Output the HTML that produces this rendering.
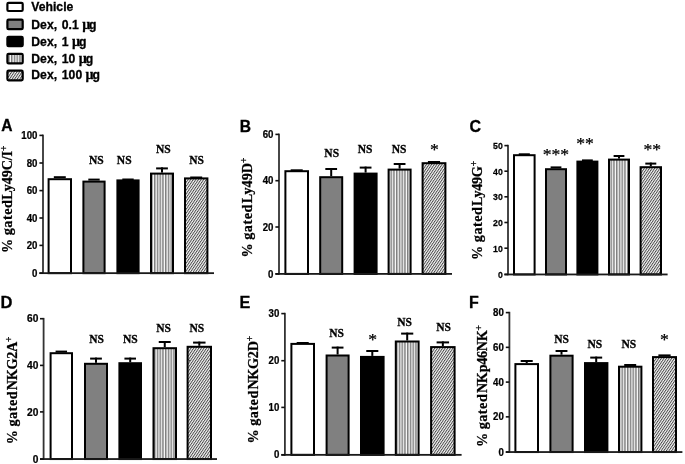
<!DOCTYPE html>
<html><head><meta charset="utf-8"><title>Figure</title>
<style>
html,body{margin:0;padding:0;background:#fff;}
body{width:685px;height:464px;overflow:hidden;position:relative;}
svg{position:absolute;left:0;top:0;display:block;will-change:transform;}
.tk{font-family:"Liberation Sans",sans-serif;font-weight:bold;font-size:10.4px;fill:#000;stroke:#000;stroke-width:0.25px;}
.lg{font-family:"Liberation Sans",sans-serif;font-weight:bold;font-size:12.2px;fill:#000;stroke:#000;stroke-width:0.3px;}
.pl{font-family:"Liberation Sans",sans-serif;font-weight:bold;font-size:14px;fill:#000;stroke:#000;stroke-width:0.3px;}
.an{font-family:"Liberation Serif",serif;font-weight:bold;font-size:11.5px;fill:#000;stroke:#000;stroke-width:0.3px;}
.st{font-family:"Liberation Serif",serif;font-weight:normal;font-size:17.6px;fill:#000;}
.yl{font-family:"Liberation Serif",serif;font-weight:bold;font-size:14.2px;fill:#000;stroke:#000;stroke-width:0.25px;}
</style></head><body>
<svg width="685" height="464" viewBox="0 0 685 464">
<defs>
<pattern id="vs" width="2.75" height="8" patternUnits="userSpaceOnUse">
<rect width="2.75" height="8" fill="#fafafa"/><rect x="0.3" width="1.0" height="8" fill="#444"/>
</pattern>
<pattern id="dh" width="2.15" height="2.15" patternUnits="userSpaceOnUse" patternTransform="rotate(-56)">
<rect width="2.15" height="2.15" fill="#f6f6f6"/><rect width="2.15" height="0.95" fill="#484848"/>
</pattern>
</defs>
<rect width="685" height="464" fill="#fff"/>

<rect x="7.4" y="2.9" width="15.3" height="8.1" rx="1.2" fill="#fff" stroke="#000" stroke-width="2.2"/>
<text class="lg" x="31.3" y="10.7">Vehicle</text>
<rect x="7.4" y="19.7" width="15.3" height="9.5" rx="1.2" fill="#808080" stroke="#000" stroke-width="2.2"/>
<text class="lg" x="31.3" y="29.1">Dex,<tspan dx="1.4"> 0.1</tspan><tspan dx="3.4" font-family="Liberation Serif" font-size="14px">µ</tspan><tspan dx="-1.2">g</tspan></text>
<rect x="7.4" y="36.9" width="15.3" height="9.3" rx="1.2" fill="#000" stroke="#000" stroke-width="2.2"/>
<text class="lg" x="31.3" y="45.9">Dex,<tspan dx="1.4"> 1</tspan><tspan dx="3.4" font-family="Liberation Serif" font-size="14px">µ</tspan><tspan dx="-1.2">g</tspan></text>
<rect x="7.4" y="53.8" width="15.3" height="9.6" rx="1.2" fill="url(#vs)" stroke="#000" stroke-width="2.2"/>
<text class="lg" x="31.3" y="62.8">Dex,<tspan dx="1.4"> 10</tspan><tspan dx="3.4" font-family="Liberation Serif" font-size="14px">µ</tspan><tspan dx="-1.2">g</tspan></text>
<rect x="7.4" y="70.7" width="15.3" height="9.6" rx="1.2" fill="url(#dh)" stroke="#000" stroke-width="2.2"/>
<text class="lg" x="31.3" y="79.3">Dex,<tspan dx="1.4"> 100</tspan><tspan dx="3.4" font-family="Liberation Serif" font-size="14px">µ</tspan><tspan dx="-1.2">g</tspan></text>
<rect x="53.82" y="176.20" width="11.96" height="2" fill="#000"/>
<rect x="48.60" y="179.20" width="22.40" height="93.95" fill="#fff" stroke="#000" stroke-width="2"/>
<rect x="88.32" y="178.60" width="11.37" height="2" fill="#000"/>
<rect x="83.40" y="181.60" width="21.20" height="91.55" fill="#808080" stroke="#000" stroke-width="2"/>
<rect x="122.32" y="178.50" width="11.37" height="2" fill="#000"/>
<rect x="117.40" y="180.40" width="21.20" height="92.75" fill="#000" stroke="#000" stroke-width="2"/>
<rect x="156.12" y="167.40" width="11.76" height="2" fill="#000"/>
<rect x="161.00" y="167.40" width="2" height="5.20" fill="#000"/>
<rect x="151.00" y="173.60" width="22.00" height="99.55" fill="url(#vs)" stroke="#000" stroke-width="2"/>
<rect x="190.22" y="176.50" width="11.96" height="2" fill="#000"/>
<rect x="185.00" y="178.40" width="22.40" height="94.75" fill="url(#dh)" stroke="#000" stroke-width="2"/>
<rect x="42.10" y="134.60" width="1.8" height="139.35" fill="#333"/>
<rect x="39.40" y="272.25" width="174.60" height="1.8" fill="#1a1a1a"/>
<rect x="39.40" y="134.60" width="3.6" height="1.6" fill="#111"/>
<text class="tk" style="font-size:10.4px" transform="translate(37.40,139.00) scale(0.93,1)" text-anchor="end">100</text>
<rect x="39.40" y="162.20" width="3.6" height="1.6" fill="#111"/>
<text class="tk" style="font-size:10.4px" transform="translate(37.40,166.60) scale(0.93,1)" text-anchor="end">80</text>
<rect x="39.40" y="189.80" width="3.6" height="1.6" fill="#111"/>
<text class="tk" style="font-size:10.4px" transform="translate(37.40,194.20) scale(0.93,1)" text-anchor="end">60</text>
<rect x="39.40" y="217.20" width="3.6" height="1.6" fill="#111"/>
<text class="tk" style="font-size:10.4px" transform="translate(37.40,221.60) scale(0.93,1)" text-anchor="end">40</text>
<rect x="39.40" y="244.60" width="3.6" height="1.6" fill="#111"/>
<text class="tk" style="font-size:10.4px" transform="translate(37.40,249.00) scale(0.93,1)" text-anchor="end">20</text>
<rect x="39.40" y="272.35" width="3.6" height="1.6" fill="#111"/>
<text class="tk" style="font-size:10.4px" transform="translate(37.40,276.75) scale(0.93,1)" text-anchor="end">0</text>
<text class="pl" x="1.30" y="131.00" style="font-size:15.6px">A</text>
<text class="an" x="96.3" y="163.6" text-anchor="middle">NS</text>
<text class="an" x="124.2" y="163.6" text-anchor="middle">NS</text>
<text class="an" x="163.4" y="152.6" text-anchor="middle">NS</text>
<text class="an" x="196.6" y="163.6" text-anchor="middle">NS</text>
<text class="yl" text-anchor="middle" transform="translate(12.2,199.3) rotate(-90)">% <tspan letter-spacing="0.5">gated</tspan><tspan dx="0.0" letter-spacing="-0.15">Ly49C/I</tspan><tspan font-size="9.6px" dy="-4.8">+</tspan></text>
<rect x="290.67" y="169.30" width="12.05" height="2" fill="#000"/>
<rect x="285.40" y="171.20" width="22.60" height="102.70" fill="#fff" stroke="#000" stroke-width="2"/>
<rect x="325.32" y="168.00" width="11.76" height="2" fill="#000"/>
<rect x="330.20" y="168.00" width="2" height="8.20" fill="#000"/>
<rect x="320.20" y="177.20" width="22.00" height="96.70" fill="#808080" stroke="#000" stroke-width="2"/>
<rect x="359.72" y="166.60" width="11.76" height="2" fill="#000"/>
<rect x="364.60" y="166.60" width="2" height="6.00" fill="#000"/>
<rect x="354.60" y="173.60" width="22.00" height="100.30" fill="#000" stroke="#000" stroke-width="2"/>
<rect x="393.72" y="163.00" width="11.76" height="2" fill="#000"/>
<rect x="398.60" y="163.00" width="2" height="5.60" fill="#000"/>
<rect x="388.60" y="169.60" width="22.00" height="104.30" fill="url(#vs)" stroke="#000" stroke-width="2"/>
<rect x="427.92" y="161.00" width="12.15" height="2" fill="#000"/>
<rect x="422.60" y="163.20" width="22.80" height="110.70" fill="url(#dh)" stroke="#000" stroke-width="2"/>
<rect x="278.10" y="133.60" width="1.8" height="141.10" fill="#333"/>
<rect x="275.40" y="273.00" width="176.60" height="1.8" fill="#1a1a1a"/>
<rect x="275.40" y="133.60" width="3.6" height="1.6" fill="#111"/>
<text class="tk" style="font-size:10.4px" transform="translate(273.40,138.00) scale(0.93,1)" text-anchor="end">60</text>
<rect x="275.40" y="179.90" width="3.6" height="1.6" fill="#111"/>
<text class="tk" style="font-size:10.4px" transform="translate(273.40,184.30) scale(0.93,1)" text-anchor="end">40</text>
<rect x="275.40" y="226.20" width="3.6" height="1.6" fill="#111"/>
<text class="tk" style="font-size:10.4px" transform="translate(273.40,230.60) scale(0.93,1)" text-anchor="end">20</text>
<rect x="275.40" y="273.10" width="3.6" height="1.6" fill="#111"/>
<text class="tk" style="font-size:10.4px" transform="translate(273.40,277.50) scale(0.93,1)" text-anchor="end">0</text>
<text class="pl" x="239.70" y="131.60" style="font-size:15.6px">B</text>
<text class="an" x="331.7" y="157.4" text-anchor="middle">NS</text>
<text class="an" x="365.1" y="152.6" text-anchor="middle">NS</text>
<text class="an" x="399.1" y="152.6" text-anchor="middle">NS</text>
<text class="st" x="434.5" y="154.5" text-anchor="middle" letter-spacing="0.3" stroke="#000" stroke-width="0.25">*</text>
<text class="yl" text-anchor="middle" transform="translate(251.8,207.5) rotate(-90)">% <tspan letter-spacing="0.5">gated</tspan><tspan dx="1.0" letter-spacing="0">Ly49D</tspan><tspan font-size="9.6px" dy="-4.8">+</tspan></text>
<rect x="518.76" y="153.30" width="11.07" height="2" fill="#000"/>
<rect x="514.00" y="155.20" width="20.60" height="119.25" fill="#fff" stroke="#000" stroke-width="2"/>
<rect x="550.61" y="166.40" width="10.78" height="2" fill="#000"/>
<rect x="546.00" y="169.20" width="20.00" height="105.25" fill="#808080" stroke="#000" stroke-width="2"/>
<rect x="582.01" y="159.40" width="10.78" height="2" fill="#000"/>
<rect x="577.40" y="161.60" width="20.00" height="112.85" fill="#000" stroke="#000" stroke-width="2"/>
<rect x="613.61" y="155.00" width="10.78" height="2" fill="#000"/>
<rect x="618.00" y="155.00" width="2" height="3.60" fill="#000"/>
<rect x="609.00" y="159.60" width="20.00" height="114.85" fill="url(#vs)" stroke="#000" stroke-width="2"/>
<rect x="645.31" y="162.60" width="10.98" height="2" fill="#000"/>
<rect x="649.80" y="162.60" width="2" height="3.60" fill="#000"/>
<rect x="640.60" y="167.20" width="20.40" height="107.25" fill="url(#dh)" stroke="#000" stroke-width="2"/>
<rect x="507.10" y="144.80" width="1.8" height="130.45" fill="#333"/>
<rect x="504.40" y="273.55" width="163.20" height="1.8" fill="#1a1a1a"/>
<rect x="504.40" y="144.80" width="3.6" height="1.6" fill="#111"/>
<text class="tk" style="font-size:9.8px" transform="translate(502.80,149.00) scale(0.89,1)" text-anchor="end">50</text>
<rect x="504.40" y="170.40" width="3.6" height="1.6" fill="#111"/>
<text class="tk" style="font-size:9.8px" transform="translate(502.80,174.60) scale(0.89,1)" text-anchor="end">40</text>
<rect x="504.40" y="196.00" width="3.6" height="1.6" fill="#111"/>
<text class="tk" style="font-size:9.8px" transform="translate(502.80,200.20) scale(0.89,1)" text-anchor="end">30</text>
<rect x="504.40" y="221.70" width="3.6" height="1.6" fill="#111"/>
<text class="tk" style="font-size:9.8px" transform="translate(502.80,225.90) scale(0.89,1)" text-anchor="end">20</text>
<rect x="504.40" y="247.40" width="3.6" height="1.6" fill="#111"/>
<text class="tk" style="font-size:9.8px" transform="translate(502.80,251.60) scale(0.89,1)" text-anchor="end">10</text>
<rect x="504.40" y="273.65" width="3.6" height="1.6" fill="#111"/>
<text class="tk" style="font-size:9.8px" transform="translate(502.80,277.85) scale(0.89,1)" text-anchor="end">0</text>
<text class="pl" x="469.60" y="132.00" style="font-size:16.0px">C</text>
<text class="st" x="555.9" y="159.8" text-anchor="middle" letter-spacing="0.0" stroke="#000" stroke-width="0.25">***</text>
<text class="st" x="585.0" y="148.9" text-anchor="middle" letter-spacing="0.0" stroke="#000" stroke-width="0.25">**</text>
<text class="st" x="652.2" y="154.5" text-anchor="middle" letter-spacing="0.0" stroke="#000" stroke-width="0.25">**</text>
<text class="yl" text-anchor="middle" transform="translate(481.6,210.4) rotate(-90)">% <tspan letter-spacing="0.5">gated</tspan><tspan dx="0.6" letter-spacing="-0.28">Ly49G</tspan><tspan font-size="9.6px" dy="-4.8">+</tspan></text>
<rect x="55.57" y="350.60" width="11.47" height="2" fill="#000"/>
<rect x="50.60" y="353.20" width="21.40" height="105.85" fill="#fff" stroke="#000" stroke-width="2"/>
<rect x="90.12" y="357.60" width="11.76" height="2" fill="#000"/>
<rect x="95.00" y="357.60" width="2" height="5.20" fill="#000"/>
<rect x="85.00" y="363.80" width="22.00" height="95.25" fill="#808080" stroke="#000" stroke-width="2"/>
<rect x="124.42" y="357.60" width="11.56" height="2" fill="#000"/>
<rect x="129.20" y="357.60" width="2" height="4.60" fill="#000"/>
<rect x="119.40" y="363.20" width="21.60" height="95.85" fill="#000" stroke="#000" stroke-width="2"/>
<rect x="158.75" y="341.00" width="12.00" height="2" fill="#000"/>
<rect x="163.75" y="341.00" width="2" height="6.20" fill="#000"/>
<rect x="153.50" y="348.20" width="22.50" height="110.85" fill="url(#vs)" stroke="#000" stroke-width="2"/>
<rect x="193.08" y="341.60" width="12.45" height="2" fill="#000"/>
<rect x="198.30" y="341.60" width="2" height="4.20" fill="#000"/>
<rect x="187.60" y="346.80" width="23.40" height="112.25" fill="url(#dh)" stroke="#000" stroke-width="2"/>
<rect x="42.70" y="317.90" width="1.8" height="141.95" fill="#333"/>
<rect x="40.00" y="458.15" width="177.00" height="1.8" fill="#1a1a1a"/>
<rect x="40.00" y="317.90" width="3.6" height="1.6" fill="#111"/>
<text class="tk" style="font-size:10.4px" transform="translate(38.30,322.30) scale(0.98,1)" text-anchor="end">60</text>
<rect x="40.00" y="364.60" width="3.6" height="1.6" fill="#111"/>
<text class="tk" style="font-size:10.4px" transform="translate(38.30,369.00) scale(0.98,1)" text-anchor="end">40</text>
<rect x="40.00" y="411.10" width="3.6" height="1.6" fill="#111"/>
<text class="tk" style="font-size:10.4px" transform="translate(38.30,415.50) scale(0.98,1)" text-anchor="end">20</text>
<rect x="40.00" y="458.25" width="3.6" height="1.6" fill="#111"/>
<text class="tk" style="font-size:10.4px" transform="translate(38.30,462.65) scale(0.98,1)" text-anchor="end">0</text>
<text class="pl" x="0.50" y="307.75" style="font-size:16.5px">D</text>
<text class="an" x="96.5" y="342.6" text-anchor="middle">NS</text>
<text class="an" x="130.3" y="342.6" text-anchor="middle">NS</text>
<text class="an" x="163.5" y="331.6" text-anchor="middle">NS</text>
<text class="an" x="196.9" y="331.6" text-anchor="middle">NS</text>
<text class="yl" text-anchor="middle" transform="translate(16.9,390.4) rotate(-90)">% <tspan letter-spacing="0.5">gated</tspan><tspan dx="0.6" letter-spacing="-0.28">NKG2A</tspan><tspan font-size="9.6px" dy="-4.8">+</tspan></text>
<rect x="296.67" y="342.00" width="12.05" height="2" fill="#000"/>
<rect x="291.40" y="343.90" width="22.60" height="110.95" fill="#fff" stroke="#000" stroke-width="2"/>
<rect x="331.72" y="346.60" width="11.76" height="2" fill="#000"/>
<rect x="336.60" y="346.60" width="2" height="7.90" fill="#000"/>
<rect x="326.60" y="355.50" width="22.00" height="99.35" fill="#808080" stroke="#000" stroke-width="2"/>
<rect x="366.27" y="350.00" width="12.05" height="2" fill="#000"/>
<rect x="371.30" y="350.00" width="2" height="5.90" fill="#000"/>
<rect x="361.00" y="356.90" width="22.60" height="97.95" fill="#000" stroke="#000" stroke-width="2"/>
<rect x="401.12" y="332.60" width="12.15" height="2" fill="#000"/>
<rect x="406.20" y="332.60" width="2" height="7.90" fill="#000"/>
<rect x="395.80" y="341.50" width="22.80" height="113.35" fill="url(#vs)" stroke="#000" stroke-width="2"/>
<rect x="436.60" y="341.40" width="12.49" height="2" fill="#000"/>
<rect x="441.85" y="341.40" width="2" height="4.70" fill="#000"/>
<rect x="431.10" y="347.10" width="23.50" height="107.75" fill="url(#dh)" stroke="#000" stroke-width="2"/>
<rect x="284.00" y="312.80" width="1.8" height="142.85" fill="#333"/>
<rect x="281.30" y="453.95" width="180.30" height="1.8" fill="#1a1a1a"/>
<rect x="281.30" y="312.80" width="3.6" height="1.6" fill="#111"/>
<text class="tk" style="font-size:10.4px" transform="translate(279.30,317.20) scale(0.93,1)" text-anchor="end">30</text>
<rect x="281.30" y="359.90" width="3.6" height="1.6" fill="#111"/>
<text class="tk" style="font-size:10.4px" transform="translate(279.30,364.30) scale(0.93,1)" text-anchor="end">20</text>
<rect x="281.30" y="406.60" width="3.6" height="1.6" fill="#111"/>
<text class="tk" style="font-size:10.4px" transform="translate(279.30,411.00) scale(0.93,1)" text-anchor="end">10</text>
<rect x="281.30" y="454.05" width="3.6" height="1.6" fill="#111"/>
<text class="tk" style="font-size:10.4px" transform="translate(279.30,458.45) scale(0.93,1)" text-anchor="end">0</text>
<text class="pl" x="239.40" y="307.75" style="font-size:16.2px">E</text>
<text class="an" x="336.5" y="336.6" text-anchor="middle">NS</text>
<text class="st" x="372.8" y="344.8" text-anchor="middle" letter-spacing="0.3" stroke="#000" stroke-width="0.25">*</text>
<text class="an" x="404.5" y="325.6" text-anchor="middle">NS</text>
<text class="an" x="443.5" y="331.0" text-anchor="middle">NS</text>
<text class="yl" text-anchor="middle" transform="translate(257.5,389.7) rotate(-90)">% <tspan letter-spacing="0.5">gated</tspan><tspan dx="0.6" letter-spacing="-0.28">NKG2D</tspan><tspan font-size="9.6px" dy="-4.8">+</tspan></text>
<rect x="520.67" y="360.00" width="12.05" height="2" fill="#000"/>
<rect x="525.70" y="360.00" width="2" height="3.10" fill="#000"/>
<rect x="515.40" y="364.10" width="22.60" height="87.95" fill="#fff" stroke="#000" stroke-width="2"/>
<rect x="555.57" y="350.00" width="11.86" height="2" fill="#000"/>
<rect x="560.50" y="350.00" width="2" height="4.70" fill="#000"/>
<rect x="550.40" y="355.70" width="22.20" height="96.35" fill="#808080" stroke="#000" stroke-width="2"/>
<rect x="590.22" y="356.60" width="11.96" height="2" fill="#000"/>
<rect x="595.20" y="356.60" width="2" height="5.50" fill="#000"/>
<rect x="585.00" y="363.10" width="22.40" height="88.95" fill="#000" stroke="#000" stroke-width="2"/>
<rect x="624.22" y="364.00" width="11.96" height="2" fill="#000"/>
<rect x="619.00" y="366.70" width="22.40" height="85.35" fill="url(#vs)" stroke="#000" stroke-width="2"/>
<rect x="658.38" y="354.40" width="12.25" height="2" fill="#000"/>
<rect x="653.00" y="357.10" width="23.00" height="94.95" fill="url(#dh)" stroke="#000" stroke-width="2"/>
<rect x="508.50" y="311.80" width="1.8" height="141.05" fill="#333"/>
<rect x="505.80" y="451.15" width="176.60" height="1.8" fill="#1a1a1a"/>
<rect x="505.80" y="311.80" width="3.6" height="1.6" fill="#111"/>
<text class="tk" style="font-size:10.4px" transform="translate(503.80,316.20) scale(0.93,1)" text-anchor="end">80</text>
<rect x="505.80" y="346.55" width="3.6" height="1.6" fill="#111"/>
<text class="tk" style="font-size:10.4px" transform="translate(503.80,350.95) scale(0.93,1)" text-anchor="end">60</text>
<rect x="505.80" y="381.30" width="3.6" height="1.6" fill="#111"/>
<text class="tk" style="font-size:10.4px" transform="translate(503.80,385.70) scale(0.93,1)" text-anchor="end">40</text>
<rect x="505.80" y="416.05" width="3.6" height="1.6" fill="#111"/>
<text class="tk" style="font-size:10.4px" transform="translate(503.80,420.45) scale(0.93,1)" text-anchor="end">20</text>
<rect x="505.80" y="451.25" width="3.6" height="1.6" fill="#111"/>
<text class="tk" style="font-size:10.4px" transform="translate(503.80,455.65) scale(0.93,1)" text-anchor="end">0</text>
<text class="pl" x="469.00" y="307.85" style="font-size:16.0px">F</text>
<text class="an" x="561.5" y="342.6" text-anchor="middle">NS</text>
<text class="an" x="594.9" y="347.6" text-anchor="middle">NS</text>
<text class="an" x="628.9" y="347.6" text-anchor="middle">NS</text>
<text class="st" x="664.5" y="345.0" text-anchor="middle" letter-spacing="0.3" stroke="#000" stroke-width="0.25">*</text>
<text class="yl" text-anchor="middle" transform="translate(487.0,386.0) rotate(-90)">% <tspan letter-spacing="0.5">gated</tspan><tspan dx="0.6" letter-spacing="-0.28">NKp46NK</tspan><tspan font-size="9.6px" dy="-4.8">+</tspan></text>
</svg></body></html>
